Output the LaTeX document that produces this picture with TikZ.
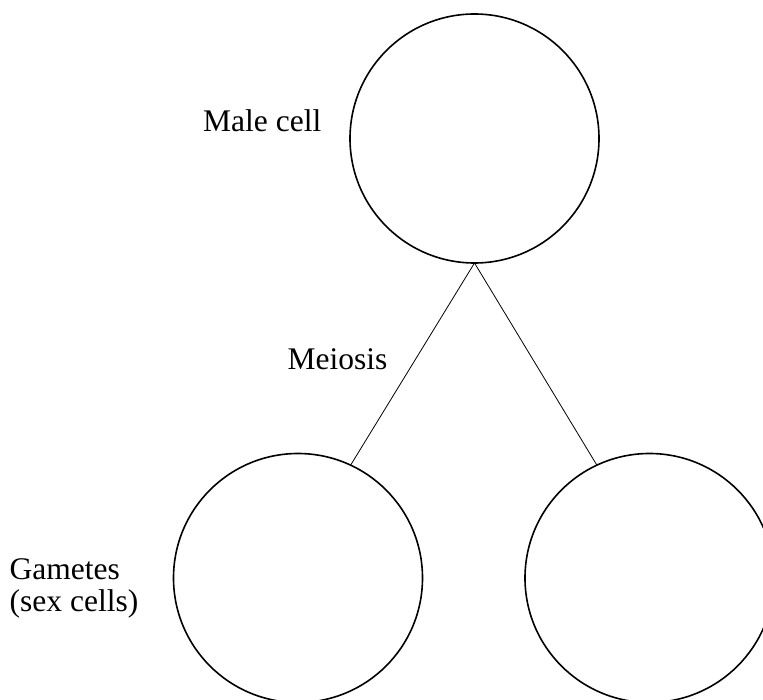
\documentclass[tikz,border=0pt]{standalone}
\usepackage{fontspec}
\setmainfont{Liberation Serif}
\begin{document}
\begin{tikzpicture}[x=1pt,y=-1pt,
  cell/.style={circle,draw,line width=1.6pt,minimum size=249pt,inner sep=0pt,outer sep=0pt},
  link/.style={line width=0.8pt},
  lbl/.style={inner sep=0pt,anchor=base west,font=\fontsize{31.5}{32.4}\selectfont}]
\useasboundingbox (0,0) rectangle (763,700);
\begin{scope}
\clip (0,0) rectangle (763,700);
\node[cell] (top) at (474.5,138.5) {};
\node[cell] (bl) at (298,578) {};
\node[cell] (br) at (649.5,578) {};
\draw[link] (top.south) -- (bl.65);
\draw[link] (top.south) -- (br.115);
\end{scope}
\node[lbl] (male) at (203,131.7) {Male cell};
\node[lbl] (meiosis) at (287.5,370) {Meiosis};
\node[lbl,align=left] (gametes) at (9.5,611.7) {Gametes\\(sex cells)};
\end{tikzpicture}
\end{document}
